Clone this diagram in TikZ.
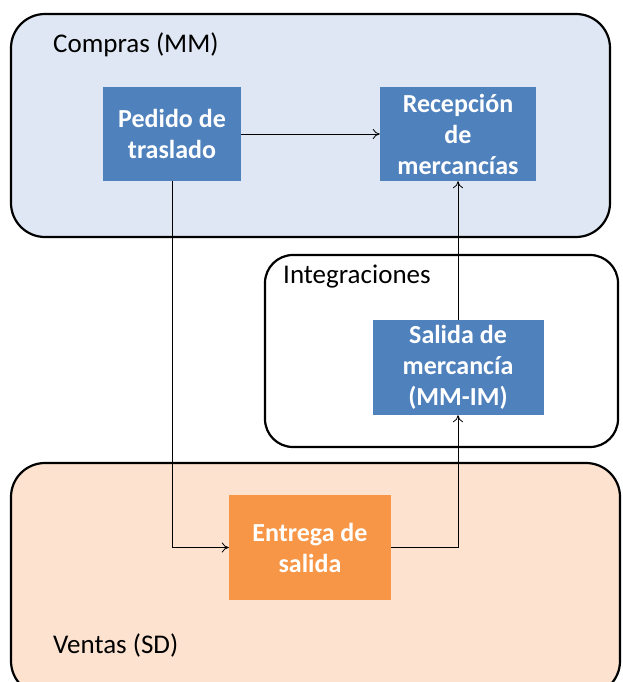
\documentclass[tikz,border=0pt]{standalone}
\usepackage{fontspec}
\setmainfont{Carlito}
\usetikzlibrary{arrows.meta}
\definecolor{cblue}{HTML}{4F81BD}
\definecolor{corange}{HTML}{F79646}
\definecolor{lblue}{HTML}{DEE7F3}
\definecolor{lpeach}{HTML}{FCE2CF}
\tikzset{
  region/.style={draw=black, line width=2.2pt},
  bx/.style={draw=none, text=white, font=\fontsize{26}{31}\selectfont\bfseries, align=center, inner sep=0pt},
  lbl/.style={anchor=west, inner sep=0pt, font=\fontsize{27}{32}\selectfont},
  conn/.style={draw=black, line width=0.8pt, -{To[length=7pt,width=10pt]}},
}
\begin{document}
\begin{tikzpicture}[x=1pt,y=-1pt]
\useasboundingbox (0,0) rectangle (623,682);
\begin{scope}
\clip (0,0) rectangle (623,682);
\draw[region, fill=lblue, rounded corners=34pt] (11,14) rectangle (610,237);
\draw[region, fill=white, rounded corners=28pt] (265,255) rectangle (618,447);
\draw[region, fill=lpeach, rounded corners=34pt] (11,463) rectangle (620,695);
\end{scope}
\node[lbl] (lc) at (53,45) {Compras (MM)};
\node[lbl] (li) at (283,277) {Integraciones};
\node[lbl] (lv) at (53,645) {Ventas (SD)};
\node[bx, fill=cblue, minimum width=138pt, minimum height=94pt] (ped) at (172,134) {Pedido de\\traslado};
\node[bx, fill=cblue, minimum width=156pt, minimum height=94pt] (rec) at (458,134) {Recepción\\de\\mercancías};
\node[bx, fill=cblue, minimum width=171pt, minimum height=95pt] (sal) at (458,367.5) {Salida de\\mercancía\\(MM-IM)};
\node[bx, fill=corange, minimum width=162pt, minimum height=105pt] (ent) at (310,547.5) {Entrega de\\salida};
\draw[conn] (ped.east) -- (rec.west);
\draw[conn] (ped.south) |- (ent.west);
\draw[conn] (ent.east) -| (sal.south);
\draw[conn] (sal.north) -- (rec.south);
\end{tikzpicture}
\end{document}
